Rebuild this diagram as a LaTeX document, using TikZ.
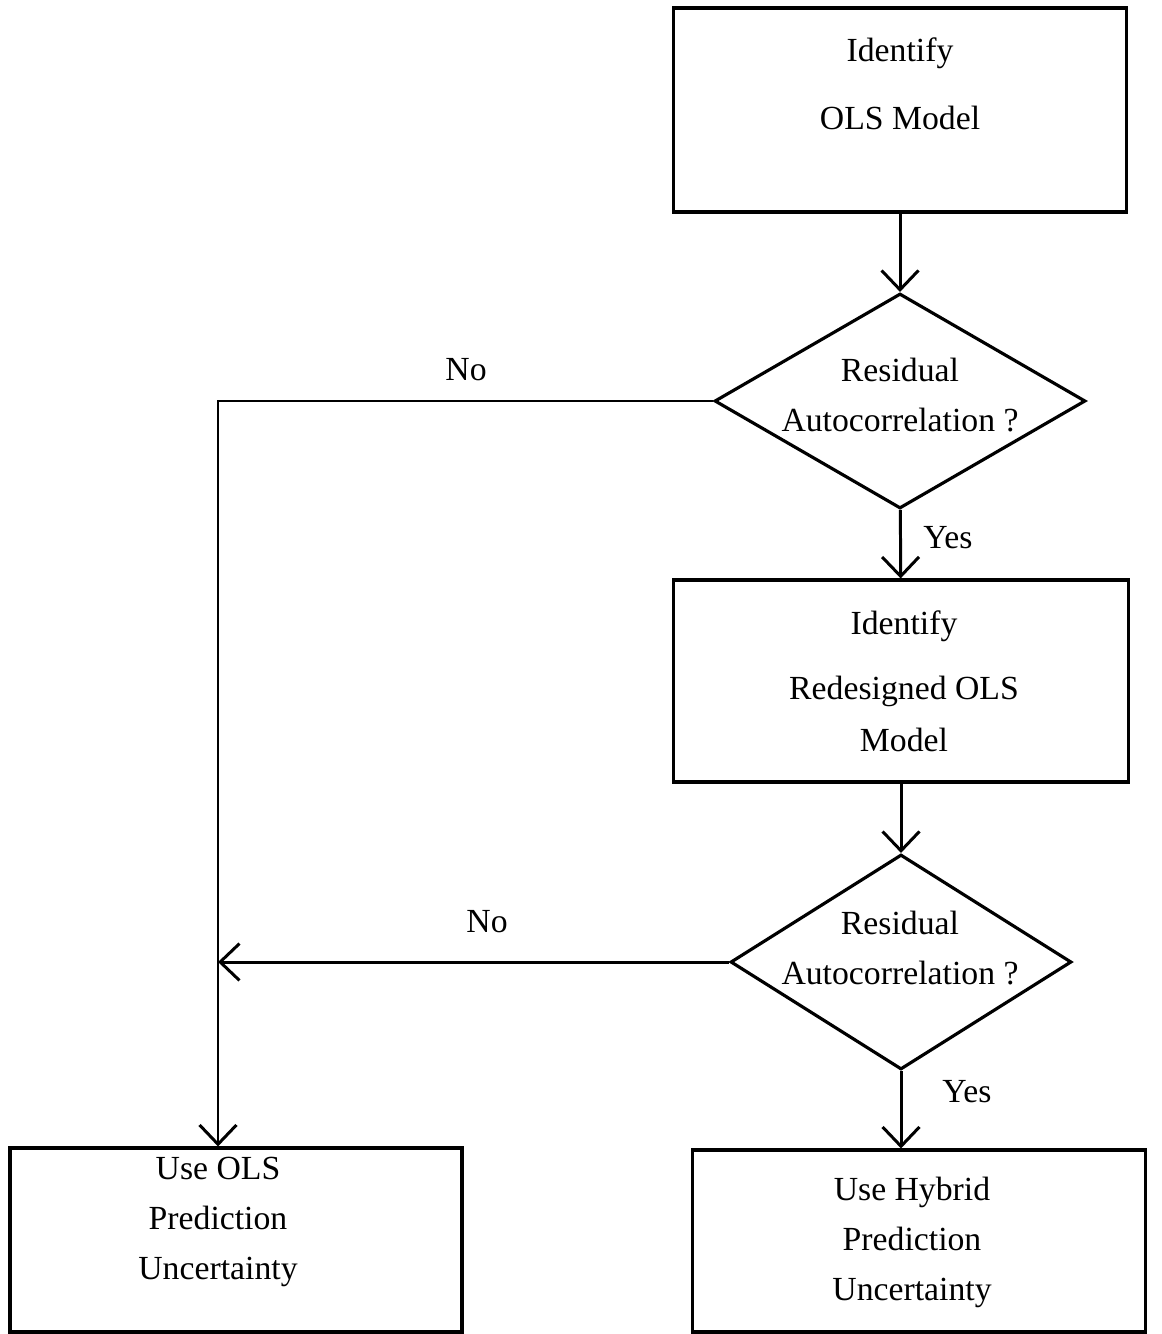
\documentclass[tikz,border=0pt]{standalone}
\usepackage{fontspec}
\setmainfont{Liberation Serif}
\usepackage{tikz}
\usetikzlibrary{shapes.geometric,arrows.meta}

\begin{document}
\begin{tikzpicture}[x=0.02cm, y=-0.02cm,
    txt/.style={align=center, font=\fontsize{19.2}{28.5}\selectfont, inner sep=0pt},
    box/.style={draw, line width=1.8pt, rectangle, inner sep=0pt},
    decision/.style={draw, line width=1.8pt, diamond, inner sep=0pt},
    flow/.style={line width=1.7pt, -{Straight Barb[length=11pt,width=21pt,line width=1.7pt]}}]
    \useasboundingbox (0,0) rectangle (1161,1334);
    % boxes and decisions
    \node[box, minimum width=9.06cm, minimum height=4.08cm] (ols) at (900,110) {};
    \node[txt] at (900,84) {Identify\\[10pt]OLS Model};
    \node[decision, minimum width=7.42cm, minimum height=4.3cm] (res1) at (900,401) {};
    \node[txt] at (900,395) {Residual\\Autocorrelation ?};
    \node[box, minimum width=9.1cm, minimum height=4.04cm] (redes) at (901,681) {};
    \node[txt] at (904,681) {Identify\\[8.5pt]Redesigned OLS\\[1pt]Model};
    \node[decision, minimum width=6.82cm, minimum height=4.3cm] (res2) at (901,962) {};
    \node[txt] at (900,948) {Residual\\Autocorrelation ?};
    \node[box, minimum width=9.04cm, minimum height=3.68cm] (olsu) at (236,1240) {};
    \node[txt] at (218,1222) {Use OLS\\Prediction\\Uncertainty};
    \node[box, minimum width=9.06cm, minimum height=3.64cm] (hyb) at (919,1241) {};
    \node[txt] at (912,1242) {Use Hybrid\\Prediction\\Uncertainty};
    % branch labels
    \node[txt] (no1) at (466,370) {No};
    \node[txt] (no2) at (487,922) {No};
    \node[txt] (yes1) at (948,538) {Yes};
    \node[txt] (yes2) at (967,1092) {Yes};
    % connectors
    \coordinate (bend) at (218,401);
    \draw[flow] (ols) -- (res1);
    \draw[flow] (res1) -- (redes);
    \draw[flow] (redes) -- (res2);
    \draw[flow] (res2) -- (res2 |- hyb.north);
    \draw[flow] (res1.west) -- (bend) -- (bend |- olsu.north);
    \draw[flow] (res2.west) -- (bend |- res2.west);
\end{tikzpicture}
\end{document}
